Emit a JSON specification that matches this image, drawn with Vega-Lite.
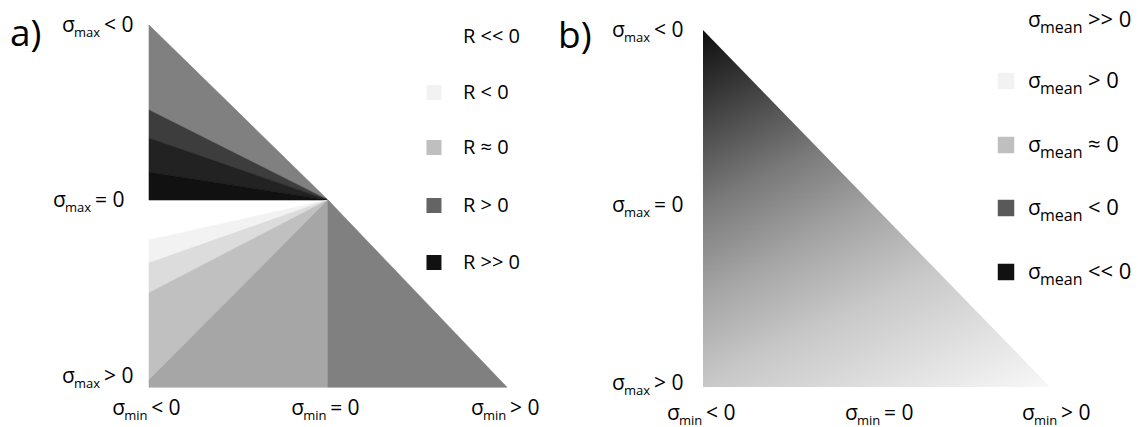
{
  "$schema": "https://vega.github.io/schema/vega-lite/v6.json",
  "background": "white",
  "padding": 0,
  "spacing": 0,
  "config": {"view": {"stroke": null}, "text": {"font": "Open Sans", "color": "#000000"}},
  "datasets": {
    "shapesA": [
      {"shape": "U1", "x": -1, "y": -1, "y2": -0.514},
      {"shape": "U1", "x": 0, "y": 0, "y2": 0},
      {"shape": "U2", "x": -1, "y": -0.514, "y2": -0.354},
      {"shape": "U2", "x": 0, "y": 0, "y2": 0},
      {"shape": "U3", "x": -1, "y": -0.354, "y2": -0.16},
      {"shape": "U3", "x": 0, "y": 0, "y2": 0},
      {"shape": "U4", "x": -1, "y": -0.16, "y2": 0},
      {"shape": "U4", "x": 0, "y": 0, "y2": 0},
      {"shape": "L1", "x": -1, "y": 0.229, "y2": 0.36},
      {"shape": "L1", "x": 0, "y": 0, "y2": 0},
      {"shape": "L2", "x": -1, "y": 0.36, "y2": 0.531},
      {"shape": "L2", "x": 0, "y": 0, "y2": 0},
      {"shape": "L3", "x": -1, "y": 0.531, "y2": 1.029},
      {"shape": "L3", "x": 0, "y": 0, "y2": 0},
      {"shape": "L4", "x": -1, "y": 1.029, "y2": 1.07},
      {"shape": "L4", "x": 0, "y": 0, "y2": 1.07},
      {"shape": "L5", "x": 0, "y": 0, "y2": 1.07},
      {"shape": "L5", "x": 1, "y": 1.07, "y2": 1.07}
    ],
    "labelsA": [
      {"x": -1.486, "y": -0.96, "sub": "max", "rest": "< 0"},
      {"x": -1.536, "y": 0.04, "sub": "max", "rest": "= 0"},
      {"x": -1.486, "y": 1.0457, "sub": "max", "rest": "> 0"},
      {"x": -1.206, "y": 1.2286, "sub": "min", "rest": "< 0"},
      {"x": -0.206, "y": 1.2286, "sub": "min", "rest": "= 0"},
      {"x": 0.799, "y": 1.2286, "sub": "min", "rest": "> 0"}
    ],
    "legendA": [
      {"cat": "R << 0", "sx": 0.592, "tx": 0.754, "y": -0.9314},
      {"cat": "R < 0", "sx": 0.592, "tx": 0.754, "y": -0.6143},
      {"cat": "R ≈ 0", "sx": 0.592, "tx": 0.754, "y": -0.3},
      {"cat": "R > 0", "sx": 0.592, "tx": 0.754, "y": 0.0314},
      {"cat": "R >> 0", "sx": 0.592, "tx": 0.754, "y": 0.3571}
    ],
    "titleA": [{"t": "a)", "x": -1.7765, "y": -0.88}],
    "triB": [
      {"x": -1, "y": -1, "y2": 1},
      {"x": 1, "y": 1, "y2": 1}
    ],
    "labelsB": [
      {"x": -1.5245, "y": -0.9608, "sub": "max", "rest": "< 0"},
      {"x": -1.5245, "y": 0.0196, "sub": "max", "rest": "= 0"},
      {"x": -1.5245, "y": 1.0168, "sub": "max", "rest": "> 0"},
      {"x": -1.2075, "y": 1.1849, "sub": "min", "rest": "< 0"},
      {"x": -0.1815, "y": 1.1849, "sub": "min", "rest": "= 0"},
      {"x": 0.8386, "y": 1.1849, "sub": "min", "rest": "> 0"},
      {"x": 0.8732, "y": -1.0168, "sub": "mean", "rest": ">> 0"},
      {"x": 0.8732, "y": -0.6751, "sub": "mean", "rest": "> 0"},
      {"x": 0.8732, "y": -0.3165, "sub": "mean", "rest": "≈ 0"},
      {"x": 0.8732, "y": 0.0364, "sub": "mean", "rest": "< 0"},
      {"x": 0.8732, "y": 0.395, "sub": "mean", "rest": "<< 0"}
    ],
    "legendB": [
      {"cat": ">> 0", "sx": 0.7464, "y": -1.056},
      {"cat": "> 0", "sx": 0.7464, "y": -0.7143},
      {"cat": "≈ 0", "sx": 0.7464, "y": -0.3557},
      {"cat": "< 0", "sx": 0.7464, "y": -0.0028},
      {"cat": "<< 0", "sx": 0.7464, "y": 0.3557}
    ],
    "titleB": [{"t": "b)", "x": -1.8357, "y": -0.9}]
  },
  "hconcat": [
    {
      "width": 550,
      "height": 427,
      "encoding": {
        "x": {"field": "x", "type": "quantitative", "scale": {"domain": [-1.8324, 1.2402], "nice": false, "zero": false}, "axis": null},
        "y": {"field": "y", "type": "quantitative", "scale": {"domain": [-1.1429, 1.2971], "reverse": true, "nice": false, "zero": false}, "axis": null}
      },
      "layer": [
        {
          "data": {"name": "shapesA"},
          "mark": {"type": "area", "strokeWidth": 0.6, "opacity": 1},
          "encoding": {
            "y": {"field": "y", "type": "quantitative", "stack": null},
            "y2": {"field": "y2"},
            "color": {"field": "shape", "type": "nominal", "scale": {"domain": ["U1", "U2", "U3", "U4", "L1", "L2", "L3", "L4", "L5"], "range": ["#808080", "#3d3d3d", "#222222", "#111111", "#f2f2f2", "#dcdcdc", "#c0c0c0", "#a6a6a6", "#808080"]}, "legend": null},
            "stroke": {"field": "shape", "type": "nominal", "scale": {"domain": ["U1", "U2", "U3", "U4", "L1", "L2", "L3", "L4", "L5"], "range": ["#808080", "#3d3d3d", "#222222", "#111111", "#f2f2f2", "#dcdcdc", "#c0c0c0", "#a6a6a6", "#808080"]}, "legend": null},
            "detail": {"field": "shape"}
          }
        },
        {
          "data": {"name": "legendA"},
          "mark": {"type": "square", "filled": true, "size": 225, "opacity": 1},
          "encoding": {
            "x": {"field": "sx", "type": "quantitative"},
            "fill": {"field": "cat", "type": "nominal", "scale": {"domain": ["R << 0", "R < 0", "R ≈ 0", "R > 0", "R >> 0"], "range": ["#ffffff", "#f2f2f2", "#bfbfbf", "#646464", "#111111"]}, "legend": null}
          }
        },
        {
          "data": {"name": "legendA"},
          "mark": {"type": "text", "align": "left", "baseline": "middle", "fontSize": 20},
          "encoding": {
            "x": {"field": "tx", "type": "quantitative"},
            "text": {"field": "cat"}
          }
        },
        {
          "data": {"name": "titleA"},
          "mark": {"type": "text", "align": "left", "baseline": "alphabetic", "fontSize": 37},
          "encoding": {"text": {"field": "t"}}
        },
        {
          "data": {"name": "labelsA"},
          "mark": {"type": "text", "text": "σ", "align": "left", "baseline": "alphabetic", "fontSize": 21}
        },
        {
          "data": {"name": "labelsA"},
          "mark": {"type": "text", "align": "left", "baseline": "alphabetic", "fontSize": 13, "dx": 12, "dy": 5},
          "encoding": {"text": {"field": "sub"}}
        },
        {
          "data": {"name": "labelsA"},
          "transform": [{"filter": "datum.sub === 'max'"}],
          "mark": {"type": "text", "align": "left", "baseline": "alphabetic", "fontSize": 21, "dx": 42},
          "encoding": {"text": {"field": "rest"}}
        },
        {
          "data": {"name": "labelsA"},
          "transform": [{"filter": "datum.sub === 'min'"}],
          "mark": {"type": "text", "align": "left", "baseline": "alphabetic", "fontSize": 21, "dx": 39},
          "encoding": {"text": {"field": "rest"}}
        }
      ],
      "resolve": {"scale": {"fill": "independent", "color": "independent", "stroke": "independent"}}
    },
    {
      "width": 588,
      "height": 427,
      "encoding": {
        "x": {"field": "x", "type": "quantitative", "scale": {"domain": [-1.8818, 1.5072], "nice": false, "zero": false}, "axis": null},
        "y": {"field": "y", "type": "quantitative", "scale": {"domain": [-1.1681, 1.2241], "reverse": true, "nice": false, "zero": false}, "axis": null}
      },
      "layer": [
        {
          "data": {"name": "triB"},
          "mark": {
            "type": "area",
            "opacity": 1,
            "color": {
              "gradient": "linear",
              "x1": 0, "y1": 0, "x2": 0.6, "y2": 1.2,
              "stops": [
                {"offset": 0, "color": "#0d0d0d"},
                {"offset": 0.333, "color": "#7a7a7a"},
                {"offset": 0.5, "color": "#a5a5a5"},
                {"offset": 0.667, "color": "#c8c8c8"},
                {"offset": 1, "color": "#f8f8f8"}
              ]
            }
          },
          "encoding": {
            "y": {"field": "y", "type": "quantitative", "stack": null},
            "y2": {"field": "y2"}
          }
        },
        {
          "data": {"name": "legendB"},
          "mark": {"type": "square", "filled": true, "size": 272, "opacity": 1},
          "encoding": {
            "x": {"field": "sx", "type": "quantitative"},
            "fill": {"field": "cat", "type": "nominal", "scale": {"domain": [">> 0", "> 0", "≈ 0", "< 0", "<< 0"], "range": ["#ffffff", "#f2f2f2", "#bfbfbf", "#595959", "#111111"]}, "legend": null}
          }
        },
        {
          "data": {"name": "titleB"},
          "mark": {"type": "text", "align": "left", "baseline": "alphabetic", "fontSize": 37},
          "encoding": {"text": {"field": "t"}}
        },
        {
          "data": {"name": "labelsB"},
          "mark": {"type": "text", "text": "σ", "align": "left", "baseline": "alphabetic", "fontSize": 21}
        },
        {
          "data": {"name": "labelsB"},
          "transform": [{"filter": "datum.sub !== 'mean'"}],
          "mark": {"type": "text", "align": "left", "baseline": "alphabetic", "fontSize": 13, "dx": 12, "dy": 5},
          "encoding": {"text": {"field": "sub"}}
        },
        {
          "data": {"name": "labelsB"},
          "transform": [{"filter": "datum.sub === 'mean'"}],
          "mark": {"type": "text", "align": "left", "baseline": "alphabetic", "fontSize": 16, "dx": 12, "dy": 6},
          "encoding": {"text": {"field": "sub"}}
        },
        {
          "data": {"name": "labelsB"},
          "transform": [{"filter": "datum.sub === 'max'"}],
          "mark": {"type": "text", "align": "left", "baseline": "alphabetic", "fontSize": 21, "dx": 42},
          "encoding": {"text": {"field": "rest"}}
        },
        {
          "data": {"name": "labelsB"},
          "transform": [{"filter": "datum.sub === 'min'"}],
          "mark": {"type": "text", "align": "left", "baseline": "alphabetic", "fontSize": 21, "dx": 39},
          "encoding": {"text": {"field": "rest"}}
        },
        {
          "data": {"name": "labelsB"},
          "transform": [{"filter": "datum.sub === 'mean'"}],
          "mark": {"type": "text", "align": "left", "baseline": "alphabetic", "fontSize": 22, "dx": 60},
          "encoding": {"text": {"field": "rest"}}
        }
      ],
      "resolve": {"scale": {"fill": "independent"}}
    }
  ]
}
